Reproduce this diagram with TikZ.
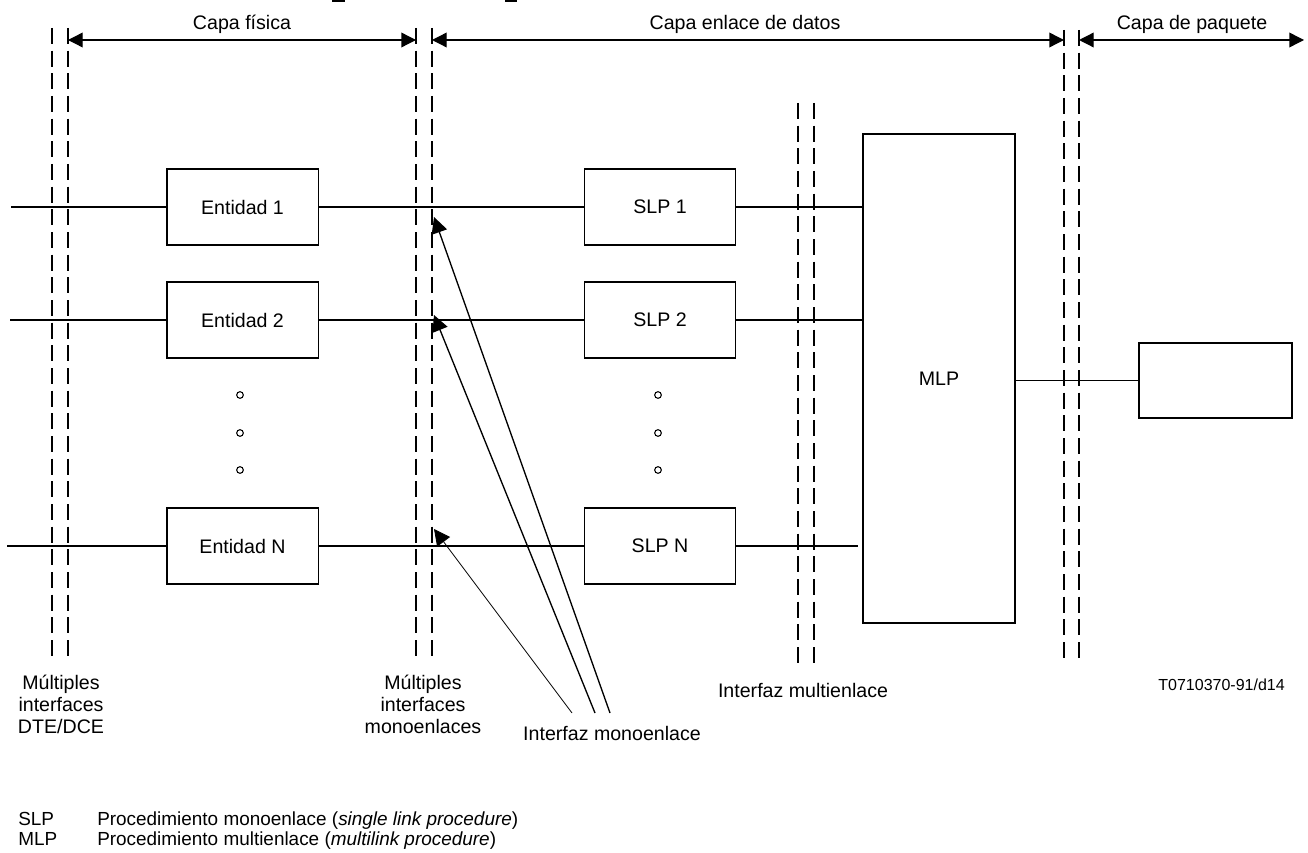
\documentclass[tikz,border=0pt]{standalone}
\usepackage{fontspec}
\setmainfont{Liberation Sans}
\usetikzlibrary{arrows.meta}

\begin{document}
\begin{tikzpicture}[x=0.75pt,y=-0.75pt,
  every node/.style={font=\fontsize{14.7pt}{16.5pt}\selectfont},
  box/.style={draw, line width=1pt, inner sep=0pt, minimum width=113.5pt, minimum height=57pt},
  wire/.style={line width=1pt},
  sep/.style={dash pattern=on 12pt off 5pt, line width=0.9pt},
  span/.style={line width=1pt, {Triangle[length=11pt,width=11pt]}-{Triangle[length=11pt,width=11pt]}},
  ptr/.style={line width=1pt, -{Triangle[length=12pt,width=12pt]}},
  dot/.style={circle, draw, line width=0.8pt, inner sep=0pt, minimum size=5pt},
  lbl/.style={inner sep=0pt, align=center},
  codefont/.style={font=\fontsize{12pt}{14pt}\selectfont},
  keyfont/.style={font=\fontsize{14.2pt}{15pt}\selectfont},
]
\useasboundingbox (0,0) rectangle (1308,852);

% small marks along the top edge
\fill (332,0) rectangle (345,2.5);
\fill (505,0) rectangle (517,2.5);

% interface boundaries (pairs of dashed lines)
\draw[sep] (52,28) -- (52,658);   \draw[sep] (68,28) -- (68,658);
\draw[sep] (416,28) -- (416,658); \draw[sep] (432,28) -- (432,658);
\draw[sep] (798,103) -- (798,668); \draw[sep] (814,103) -- (814,668);
\draw[sep] (1064,30) -- (1064,660); \draw[sep] (1079,30) -- (1079,660);

% layer spans
\coordinate (f0) at (68,40);   \coordinate (f1) at (416,40);
\coordinate (d0) at (432,40);  \coordinate (d1) at (1064,40);
\coordinate (q0) at (1079,40); \coordinate (q1) at (1304,40);
\draw[span] (f0) -- (f1);
\draw[span] (d0) -- (d1);
\draw[span] (q0) -- (q1);
\node[anchor=base, inner sep=0pt] (tf) at (242,30) {Capa física};
\node[anchor=base, inner sep=0pt] (td) at (745,30) {Capa enlace de datos};
\node[anchor=base, inner sep=0pt] (tq) at (1192,30) {Capa de paquete};

% physical entities
\node[box] (e1) at (242.5,207) {Entidad 1};
\node[box] (e2) at (242.5,320) {Entidad 2};
\node[box] (en) at (242.5,546) {Entidad N};

% single link procedures
\node[box] (s1) at (660,207) {SLP 1};
\node[box] (s2) at (660,320) {SLP 2};
\node[box] (sn) at (660,546) {SLP N};

% multilink procedure and packet layer
\node[box, minimum width=114pt, minimum height=366.75pt] (mlp) at (939,378.5) {MLP};
\node[box, minimum width=114.75pt, minimum height=56.25pt] (pkt) at (1215.5,380.5) {};

% line ends on the DTE/DCE side
\coordinate (l1) at (11,207);
\coordinate (l2) at (10,320);
\coordinate (ln) at (7,546);

\draw[wire] (l1) -- (e1);
\draw[wire] (l2) -- (e2);
\draw[wire] (ln) -- (en);
\draw[wire] (e1) -- (s1);
\draw[wire] (e2) -- (s2);
\draw[wire] (en) -- (sn);
\draw[wire] (s1) -- (s1 -| mlp.west);
\draw[wire] (s2) -- (s2 -| mlp.west);
\draw[wire] (sn.east) -- ([xshift=-3]sn -| mlp.west);
\draw[wire] (pkt.west) -- (pkt.west -| mlp.east);

% ellipsis dots
\node[dot] (ea) at (240,395) {};
\node[dot] (eb) at (240,433) {};
\node[dot] (ec) at (240,470) {};
\node[dot] (sa) at (658,395) {};
\node[dot] (sb) at (658,433) {};
\node[dot] (sc) at (658,470) {};

% single link interface pointers
\coordinate (a1) at (610,713); \coordinate (t1) at (434,217);
\coordinate (a2) at (595,713); \coordinate (t2) at (434,315);
\coordinate (an) at (572,713); \coordinate (tn) at (434,529);
\draw[ptr] (a1) -- (t1);
\draw[ptr] (a2) -- (t2);
\draw[ptr, line width=0.6pt] (an) -- (tn);

% boundary captions
\node[lbl, anchor=north] (c1) at (61,675) {Múltiples\\interfaces\\DTE/DCE};
\node[lbl, anchor=north] (c2) at (423,675) {Múltiples\\interfaces\\monoenlaces};
\node[anchor=base, inner sep=0pt] (c3) at (612,740) {Interfaz monoenlace};
\node[anchor=base, inner sep=0pt] (c4) at (803,697) {Interfaz multienlace};
\node[anchor=base east, inner sep=0pt, codefont] (code) at (1285,690) {T0710370-91/d14};

% abbreviations
\node[anchor=base west, inner sep=0pt, keyfont] (k1) at (18,825) {SLP};
\node[anchor=base west, inner sep=0pt, keyfont] (v1) at (97,825) {Procedimiento monoenlace (\textit{single link procedure})};
\node[anchor=base west, inner sep=0pt, keyfont] (k2) at (18,845) {MLP};
\node[anchor=base west, inner sep=0pt, keyfont] (v2) at (97,845) {Procedimiento multienlace (\textit{multilink procedure})};
\end{tikzpicture}
\end{document}
